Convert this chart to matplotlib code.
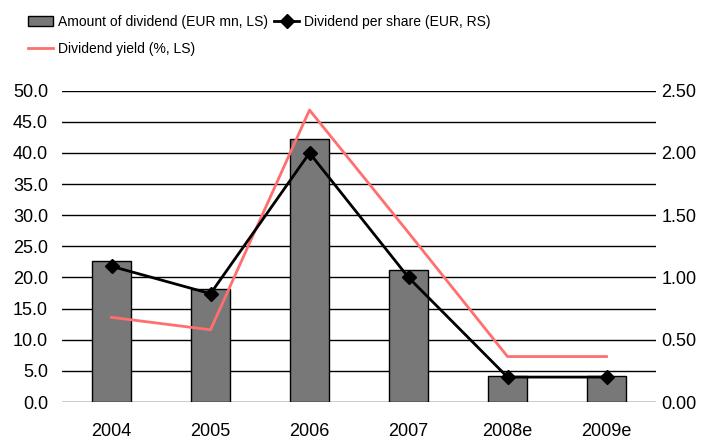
import matplotlib
matplotlib.use("Agg")
import matplotlib.pyplot as plt
import numpy as np

plt.rcParams['font.family'] = ['Liberation Sans', 'DejaVu Sans']

years = ["2004", "2005", "2006", "2007", "2008e", "2009e"]
dividend_amount = [22.7, 18.2, 42.3, 21.2, 4.2, 4.2]      # EUR mn, LS
dividend_yield = [13.6, 11.6, 46.9, 27.2, 7.3, 7.3]      # %, LS
dps = [1.09, 0.87, 2.00, 1.00, 0.20, 0.20]                # EUR, RS

x = np.arange(len(years))

fig = plt.figure(figsize=(7.11, 4.40), dpi=100)
ax = fig.add_axes([62/711, 1 - 402/440, 594/711, 311.3/440])
ax2 = ax.twinx()

ax.set_axisbelow(True)
for v in np.arange(0, 50.1, 5):
    ax.axhline(v, color="black", lw=1.0, zorder=0)

bars = ax.bar(x, dividend_amount, width=0.4, color="#787878", edgecolor="black",
              linewidth=1.0, zorder=2, label="Amount of dividend (EUR mn, LS)")
yl, = ax.plot(x, dividend_yield, color="#FF6F6F", lw=2.0, zorder=3,
              label="Dividend yield (%, LS)")
ax.set_ylim(0, 50)
ax.set_xlim(-0.5, 5.5)
ax.set_yticks(np.arange(0, 50.1, 5))
ax.set_yticklabels([f"{v:.1f}" for v in np.arange(0, 50.1, 5)])
ax.set_xticks(x)
ax.set_xticklabels(years)

dl, = ax2.plot(x, dps, color="black", lw=2.0, marker="D", markersize=7, zorder=4,
               label="Dividend per share (EUR, RS)")
ax2.set_ylim(0, 2.5)
ax2.set_yticks(np.arange(0, 2.51, 0.5))
ax2.set_yticklabels([f"{v:.2f}" for v in np.arange(0, 2.51, 0.5)])

for a in (ax, ax2):
    for s in a.spines.values():
        s.set_visible(False)
    a.tick_params(length=0, labelsize=13)
ax.tick_params(axis="y", pad=10)
ax2.tick_params(axis="y", pad=4)
ax.tick_params(axis="x", pad=15)

fig.legend([bars, yl, dl],
           ["Amount of dividend (EUR mn, LS)", "Dividend yield (%, LS)", "Dividend per share (EUR, RS)"],
           ncol=2, loc="upper left", bbox_to_anchor=(0.028, 0.985), frameon=False,
           fontsize=10, handlelength=1.8, handletextpad=0.35, columnspacing=0.43,
           labelspacing=0.95, borderaxespad=0.2)

fig.savefig("out.png", dpi=100)
